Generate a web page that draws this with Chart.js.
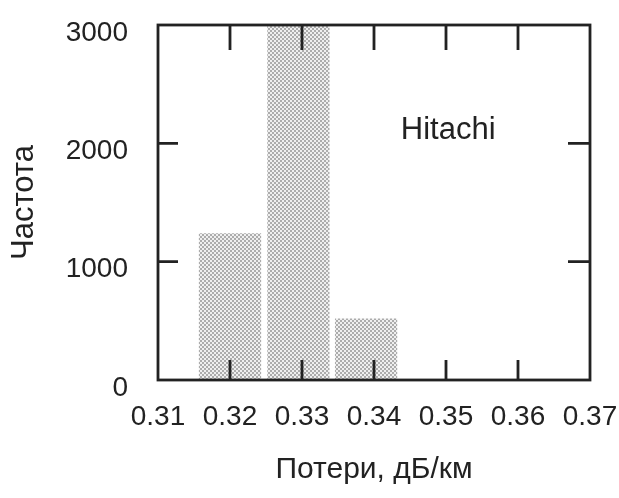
<!DOCTYPE html>
<html>
<head>
<meta charset="utf-8">
<script src="https://cdn.jsdelivr.net/npm/chart.js@4.4.1/dist/chart.umd.min.js"></script>
<style>
body { margin: 0; background: #fff; }
#wrap { width: 619px; height: 498px; }
</style>
</head>
<body>
<div id="wrap"><canvas id="histChart"></canvas></div>
<script>
// histogram bins (centre of each bin, dB/km) and counts
var binCenters = [0.3200, 0.3295, 0.3389];
var counts = [1240, 3000, 520];
var xTicks = [0.31, 0.32, 0.33, 0.34, 0.35, 0.36, 0.37];
var yTicks = [0, 1000, 2000, 3000];
var labelText = 'Hitachi';
var labelPos = [0.3503, 2110];

var FONT = "'Liberation Sans', Arial, sans-serif";
var INK = '#222222';

// stippled grey fill like the scan
var pc = document.createElement('canvas');
pc.width = 4;
pc.height = 4;
var p = pc.getContext('2d');
p.fillStyle = '#efefef';
p.fillRect(0, 0, 4, 4);
p.fillStyle = '#acacac';
p.fillRect(0, 0, 2, 2);
p.fillRect(2, 2, 2, 2);
var stipple = p.createPattern(pc, 'repeat');

var chartData = [];
for (var i = 0; i < binCenters.length; i++) {
	chartData.push({ x : binCenters[i], y : counts[i] });
}

// frame with inward tick marks and the in-plot label
var framePlugin = {
	id : 'frame',
	afterDatasetsDraw : function(chart) {
		var ctx = chart.ctx;
		var a = chart.chartArea;
		var xs = chart.scales.x;
		var ys = chart.scales.y;
		ctx.save();
		ctx.strokeStyle = INK;
		ctx.lineWidth = 2.8;
		ctx.strokeRect(a.left, a.top, a.right - a.left, a.bottom - a.top);
		ctx.beginPath();
		for (var i = 1; i < xTicks.length - 1; i++) {
			var px = xs.getPixelForValue(xTicks[i]);
			ctx.moveTo(px, a.bottom);
			ctx.lineTo(px, a.bottom - 20);
			ctx.moveTo(px, a.top);
			ctx.lineTo(px, a.top + 25);
		}
		for (var j = 1; j < yTicks.length - 1; j++) {
			var py = ys.getPixelForValue(yTicks[j]);
			ctx.moveTo(a.left, py);
			ctx.lineTo(a.left + 20, py);
			ctx.moveTo(a.right, py);
			ctx.lineTo(a.right - 22, py);
		}
		ctx.stroke();

		ctx.fillStyle = INK;
		ctx.font = '31px ' + FONT;
		ctx.textAlign = 'center';
		ctx.textBaseline = 'middle';
		ctx.fillText(labelText, xs.getPixelForValue(labelPos[0]), ys.getPixelForValue(labelPos[1]));
		ctx.restore();
	}
};

var ctx = document.getElementById('histChart');
var histChart = new Chart(ctx, {
	type : 'bar',
	data : {
		datasets : [ {
			data : chartData,
			backgroundColor : stipple,
			borderWidth : 0,
			categoryPercentage : 1.0,
			barPercentage : 0.92
		} ]
	},
	options : {
		responsive : true,
		maintainAspectRatio : false,
		animation : false,
		layout : {
			padding : { top : 25, right : 29, left : 0, bottom : 0 }
		},
		plugins : {
			legend : { display : false },
			tooltip : { enabled : false }
		},
		scales : {
			x : {
				type : 'linear',
				min : 0.31,
				max : 0.37,
				offset : false,
				afterBuildTicks : function(scale) {
					scale.ticks = xTicks.map(function(v) { return { value : v }; });
				},
				afterFit : function(scale) {
					scale.height = 118;
					scale.paddingLeft = 0;
					scale.paddingRight = 0;
				},
				grid : { display : false, drawTicks : false },
				border : { display : false },
				ticks : {
					padding : 20,
					maxRotation : 0,
					autoSkip : false,
					color : INK,
					font : { family : FONT, size : 28 },
					callback : function(v) { return v.toFixed(2); }
				},
				title : {
					display : true,
					text : 'Потери, дБ/км',
					color : INK,
					font : { family : FONT, size : 30 },
					padding : { top : 0, bottom : 10 }
				}
			},
			y : {
				min : 0,
				max : 3000,
				afterBuildTicks : function(scale) {
					scale.ticks = yTicks.map(function(v) { return { value : v }; });
				},
				afterFit : function(scale) {
					scale.width = 158;
					scale.paddingTop = 0;
					scale.paddingBottom = 0;
				},
				grid : { display : false, drawTicks : false },
				border : { display : false },
				ticks : {
					padding : 30,
					labelOffset : 8,
					color : INK,
					font : { family : FONT, size : 28 },
					callback : function(v) { return String(v); }
				},
				title : {
					display : true,
					text : 'Частота',
					color : INK,
					font : { family : FONT, size : 31 },
					padding : { top : 6, bottom : 0 }
				}
			}
		}
	},
	plugins : [ framePlugin ]
});
</script>
</body>
</html>
